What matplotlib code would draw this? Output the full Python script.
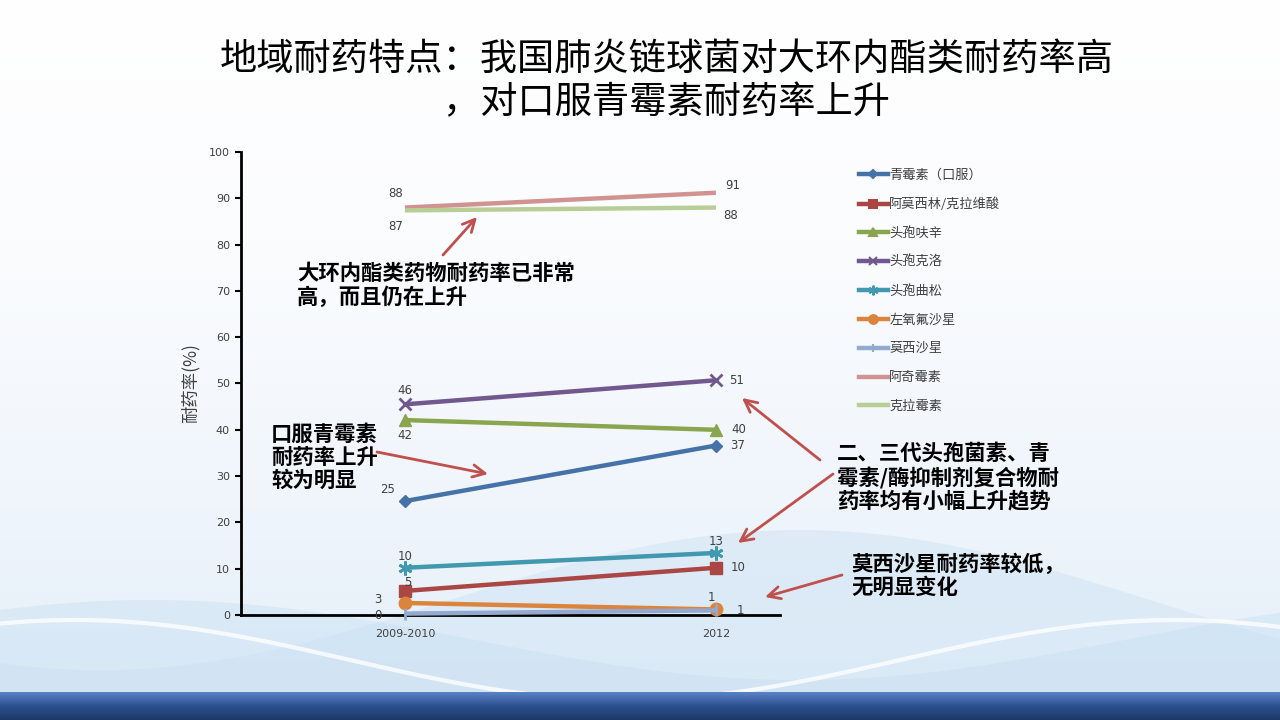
import numpy as np
import matplotlib.pyplot as plt
from matplotlib.lines import Line2D
from matplotlib.colors import LinearSegmentedColormap

plt.rcParams['font.family'] = ['Noto Sans CJK SC', 'DejaVu Sans']

# data
years = ['2009-2010', '2012']
series = ['青霉素（口服）', '阿莫西林/克拉维酸', '头孢呋辛', '头孢克洛', '头孢曲松',
          '左氧氟沙星', '莫西沙星', '阿奇霉素', '克拉霉素']
values = [[24.6, 36.6],
          [5.2, 10.2],
          [42.1, 40.0],
          [45.5, 50.7],
          [10.2, 13.4],
          [2.6, 1.2],
          [0.3, 1.0],
          [88.0, 91.2],
          [87.4, 88.0]]
labels = [['25', '37'], ['5', '10'], ['42', '40'], ['46', '51'], ['10', '13'],
          ['3', '1'], ['0', '1'], ['88', '91'], ['87', '88']]

colors = ['#4572A7', '#AA4643', '#89A54E', '#71588F', '#4198AF',
          '#DB843D', '#93A9CF', '#D19392', '#B9CD96']
markers = ['D', 's', '^', 'x', (6, 2, 0), 'o', '|', None, None]
msizes = [6, 9, 8, 9, 10, 9, 8, 0, 0]
# label offsets in pixels (dx, dy up) for each point
offsets = [[(-17, 12), (22, 0)],
           [(3, 8), (22, 0)],
           [(0, -15), (23, 0)],
           [(0, 14), (21, 0)],
           [(0, 11), (0, 11)],
           [(-27, 3), (-5, 12)],
           [(-27, -2), (24, 0)],
           [(-9, 14), (17, 7)],
           [(-9, -16), (15, -8)]]

fig = plt.figure(figsize=(12.8, 7.2), dpi=100)

# slide background
bg = fig.add_axes([0, 0, 1, 1], zorder=-5)
bg.axis('off')
grad = np.linspace(0, 1, 256).reshape(-1, 1)
bgcmap = LinearSegmentedColormap.from_list('bg', ['#ffffff', '#fbfcfe', '#f1f6fc', '#e2eef8'])
bg.imshow(grad, extent=[0, 1280, 720, 0], cmap=bgcmap, aspect='auto', zorder=0)
xx = np.linspace(0, 1280, 400)
w1 = 600 + 70 * np.cos((xx - 100) / 1400 * 2 * np.pi)
w2 = 660 - 40 * np.sin((xx + 200) / 1100 * 2 * np.pi)
w3 = 640 + 40 * np.cos((xx - 800) / 1300 * 2 * np.pi)
bg.fill_between(xx, w1, 720, color='#d4e6f5', alpha=0.6, lw=0, zorder=1)
bg.fill_between(xx, w3, 720, color='#c6def2', alpha=0.4, lw=0, zorder=1)
bg.plot(xx, w2, color='white', lw=3, alpha=0.8, zorder=2)
bandcmap = LinearSegmentedColormap.from_list('band', ['#5a83c6', '#2d5190', '#1c3866'])
bg.imshow(grad, extent=[0, 1280, 720, 692], cmap=bandcmap, aspect='auto', zorder=5)
bg.set_xlim(0, 1280)
bg.set_ylim(720, 0)

# title
fig.text(667 / 1280, 1 - 59 / 720, '地域耐药特点：我国肺炎链球菌对大环内酯类耐药率高',
         ha='center', va='center', fontsize=26.8, color='black')
fig.text(667 / 1280, 1 - 103 / 720, '，对口服青霉素耐药率上升',
         ha='center', va='center', fontsize=26.8, color='black')

# chart
ax = fig.add_axes([241 / 1280, 1 - 615 / 720, (780 - 241) / 1280, (615 - 152) / 720])
ax.patch.set_alpha(0)
x = np.arange(len(years))
for name, vals, lab, c, m, ms, offs in zip(series, values, labels, colors, markers, msizes, offsets):
    ax.plot(x, vals, color=c, lw=3.2, marker=m, markersize=ms,
            markeredgewidth=2 if m in ('x', '|') or isinstance(m, tuple) else 1,
            markeredgecolor=c, markerfacecolor=c, label=name, solid_capstyle='butt',
            clip_on=False, zorder=3)
    for xi, v, t, (dx, dy) in zip(x, vals, lab, offs):
        ax.annotate(t, (xi, v), xytext=(dx * 0.72, dy * 0.72), textcoords='offset points',
                    ha='center', va='center', fontsize=8.5, color='#404040',
                    family=['DejaVu Sans'])

ax.set_xlim(-0.527, 1.206)
ax.set_ylim(0, 100)
ax.set_yticks(np.arange(0, 101, 10))
ax.set_xticks(x)
ax.set_xticklabels(years)
ax.tick_params(axis='y', length=4, width=1.5, labelsize=8, labelcolor='#404040', pad=4)
ax.tick_params(axis='x', length=0, labelsize=8, labelcolor='#404040', pad=10)
for lab in ax.get_yticklabels() + ax.get_xticklabels():
    lab.set_family(['DejaVu Sans'])
for s in ['top', 'right']:
    ax.spines[s].set_visible(False)
ax.spines['left'].set_linewidth(2)
ax.spines['bottom'].set_linewidth(2)
ax.set_ylabel('耐药率(%)', fontsize=12.5, color='#404040', labelpad=7)

handles = []
for name, c, m, ms in zip(series, colors, markers, msizes):
    handles.append(Line2D([0], [0], color=c, lw=3.2, marker=m, markersize=ms * 0.7,
                          markeredgecolor=c, markerfacecolor=c, markeredgewidth=1.5))
fig.legend(handles, series, loc='upper left', bbox_to_anchor=(847 / 1280, 1 - 157 / 720),
           frameon=False, fontsize=9.5, labelspacing=1.2, handlelength=2.2, handletextpad=0.1,
           labelcolor='#404040')

# annotations
red = '#C0504D'


def note(text, x0, y0):
    fig.text(x0 / 1280, 1 - y0 / 720, text, ha='left', va='top', fontsize=15.4,
             fontweight='bold', color='black', linespacing=1.12)


def arrow(x0, y0, x1, y1):
    fig.add_artist(plt.Annotation('', xy=(x1, 720 - y1), xytext=(x0, 720 - y0),
                                  xycoords='figure pixels', textcoords='figure pixels',
                                  arrowprops=dict(arrowstyle='->', color=red, lw=2,
                                                  mutation_scale=22, shrinkA=0, shrinkB=0)))


note('大环内酯类药物耐药率已非常\n高，而且仍在上升', 297, 263)
arrow(443, 255, 477, 217)
note('口服青霉素\n耐药率上升\n较为明显', 271, 424)
arrow(377, 452, 488, 474)
note('二、三代头孢菌素、青\n霉素/酶抑制剂复合物耐\n药率均有小幅上升趋势', 837, 443)
arrow(820, 460, 742, 398)
arrow(833, 474, 738, 543)
note('莫西沙星耐药率较低，\n无明显变化', 851, 553)
arrow(842, 575, 765, 597)

fig.savefig('out.png', dpi=100)
